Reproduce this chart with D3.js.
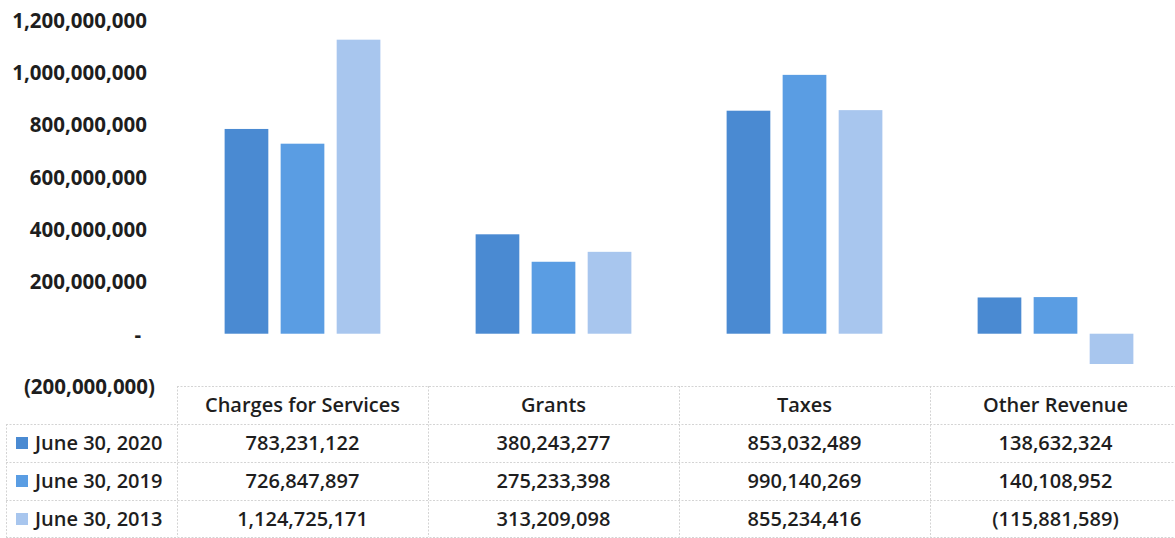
<!DOCTYPE html>
<html>
<head>
<meta charset="utf-8">
<script src="https://cdn.jsdelivr.net/npm/d3@7/dist/d3.min.js"></script>
<style>
  html, body { margin: 0; padding: 0; background: #ffffff; }
  svg { display: block; }
</style>
</head>
<body>
<svg id="chart" width="1175" height="538"></svg>
<script>
// ---- data ----
const categories = ["Charges for Services", "Grants", "Taxes", "Other Revenue"];
const seriesNames = ["June 30, 2020", "June 30, 2019", "June 30, 2013"];
const values2020 = [783231122, 380243277, 853032489, 138632324];
const values2019 = [726847897, 275233398, 990140269, 140108952];
const values2013 = [1124725171, 313209098, 855234416, -115881589];
const yTicks = [1200000000, 1000000000, 800000000, 600000000, 400000000, 200000000, 0, -200000000];
const seriesColors = ["#4a8ad2", "#5a9de3", "#a8c6ee"];

const seriesValues = [values2020, values2019, values2013];

// ---- layout ----
const W = 1175, H = 538;
const svg = d3.select("#chart");
const textColor = "#1e1e1e";
const fontFam = "'Open Sans', 'Noto Sans', sans-serif";

const tableLeft = 177, tableRight = 1181;
const headerTop = 386, rowH = 38;

const y = d3.scaleLinear().domain([-200000000, 1200000000]).range([386, 20]);

const x0 = d3.scaleBand().domain(categories).range([tableLeft, tableRight]).paddingInner(0).paddingOuter(0);
const x1 = d3.scaleBand().domain(seriesNames).range([0, x0.bandwidth()]).paddingInner(0.22).paddingOuter(0.85);

const fmt = d3.format(",");
const acct = v => v === 0 ? "-" : (v < 0 ? "(" + fmt(-v) + ")" : fmt(v));

// ---- y axis ----
const yAxis = d3.axisLeft(y).tickValues(yTicks).tickSize(0).tickPadding(0).tickFormat(acct);
const gy = svg.append("g").attr("transform", "translate(147,0)").call(yAxis);
gy.select(".domain").remove();
gy.selectAll("text")
  .attr("font-family", fontFam)
  .attr("font-size", 20.5)
  .attr("font-weight", 700)
  .attr("fill", textColor)
  .attr("dy", "0.36em")
  .attr("x", d => d < 0 ? 8 : (d === 0 ? -6 : 0));

// ---- bars ----
const groups = svg.append("g").selectAll("g")
  .data(categories)
  .join("g")
  .attr("transform", c => `translate(${x0(c)},0)`);

groups.selectAll("rect")
  .data((c, ci) => seriesNames.map((s, si) => ({ s, si, v: seriesValues[si][ci] })))
  .join("rect")
  .attr("x", d => x1(d.s))
  .attr("width", x1.bandwidth())
  .attr("y", d => y(Math.max(0, d.v)))
  .attr("height", d => Math.abs(y(d.v) - y(0)))
  .attr("fill", d => seriesColors[d.si]);

// ---- data table ----
const lineStyle = sel => sel.attr("stroke", "#d4d4d4").attr("stroke-width", 1).attr("stroke-dasharray", "2,1.5");
const tg = svg.append("g");
const rowTops = [headerTop, headerTop + rowH, headerTop + 2 * rowH, headerTop + 3 * rowH];
const tableBottom = headerTop + 4 * rowH - 1;

// horizontal lines
tg.append("line").attr("x1", tableLeft).attr("x2", tableRight).attr("y1", headerTop + 0.5).attr("y2", headerTop + 0.5).call(lineStyle);
[1, 2, 3].forEach(i => {
  tg.append("line").attr("x1", 6).attr("x2", tableRight).attr("y1", rowTops[i] + 0.5).attr("y2", rowTops[i] + 0.5).call(lineStyle);
});
tg.append("line").attr("x1", 6).attr("x2", tableRight).attr("y1", tableBottom + 0.5).attr("y2", tableBottom + 0.5).call(lineStyle);
// vertical lines
categories.forEach(c => {
  tg.append("line").attr("x1", x0(c) + 0.5).attr("x2", x0(c) + 0.5).attr("y1", headerTop).attr("y2", tableBottom).call(lineStyle);
});
tg.append("line").attr("x1", 6.5).attr("x2", 6.5).attr("y1", rowTops[1]).attr("y2", tableBottom).call(lineStyle);

// header texts
tg.selectAll("text.hdr")
  .data(categories)
  .join("text")
  .attr("class", "hdr")
  .attr("x", c => x0(c) + x0.bandwidth() / 2)
  .attr("y", headerTop + rowH / 2)
  .attr("dy", "0.36em")
  .attr("text-anchor", "middle")
  .attr("font-family", fontFam)
  .attr("font-size", 20)
  .attr("font-weight", 600)
  .attr("fill", textColor)
  .text(c => c);

// rows
seriesNames.forEach((s, si) => {
  const cy = rowTops[si + 1] + rowH / 2;
  tg.append("rect")
    .attr("x", 16).attr("y", cy - 6).attr("width", 12).attr("height", 12)
    .attr("fill", seriesColors[si]);
  tg.append("text")
    .attr("x", 35).attr("y", cy).attr("dy", "0.36em")
    .attr("font-family", fontFam).attr("font-size", 20).attr("font-weight", 600)
    .attr("fill", textColor)
    .text(s);
  tg.selectAll("text.v" + si)
    .data(categories)
    .join("text")
    .attr("class", "v" + si)
    .attr("x", c => x0(c) + x0.bandwidth() / 2)
    .attr("y", cy)
    .attr("dy", "0.36em")
    .attr("text-anchor", "middle")
    .attr("font-family", fontFam)
    .attr("font-size", 20)
    .attr("font-weight", 600)
    .attr("fill", textColor)
    .text((c, ci) => acct(seriesValues[si][ci]));
});
</script>
</body>
</html>
